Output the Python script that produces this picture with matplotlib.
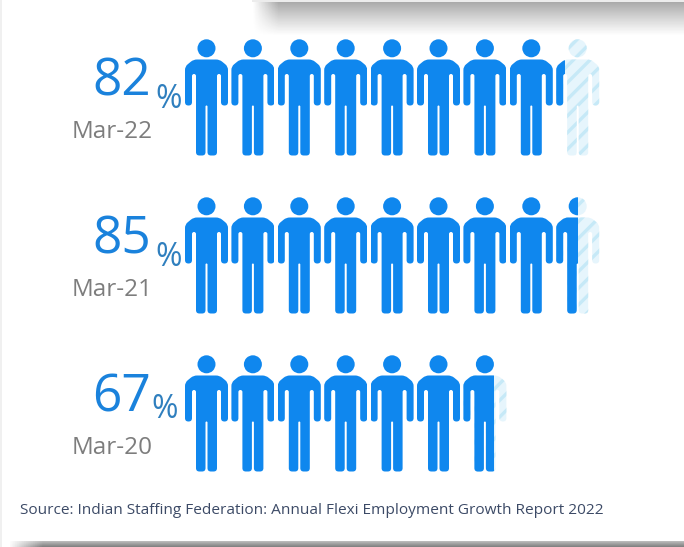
import math
import numpy as np
import matplotlib
matplotlib.use("Agg")
import matplotlib.pyplot as plt
from matplotlib.patches import PathPatch, Rectangle
from matplotlib.path import Path

# share of flexi workers, one icon stands for ten points
periods = ["Mar-22", "Mar-21", "Mar-20"]
shares = [82, 85, 67]
source_note = "Source: Indian Staffing Federation: Annual Flexi Employment Growth Report 2022"

BLUE = "#0f87ee"
PALE = "#e6f5fc"
STRIPE = "#c6e9f7"
ICON_W = 43.0
PITCH = 46.4
FIRST_LEFT = 185.0
ROW_TOPS = [39.5, 197.5, 355.5]
PCT_RIGHT = [182, 182, 178]
PCT_DROP = [68, 68, 62]

plt.rcParams["hatch.linewidth"] = 2.4
plt.rcParams["font.family"] = ["Open Sans", "DejaVu Sans"]


def rounded_poly(points, radius):
    """Closed polygon with its corners cut by quadratic curves."""
    verts, codes = [], []
    n = len(points)
    for i in range(n):
        p = np.array(points[i], float)
        a = np.array(points[i - 1], float)
        b = np.array(points[(i + 1) % n], float)
        r = min(radius, np.linalg.norm(a - p) / 2, np.linalg.norm(b - p) / 2)
        start = p + (a - p) / np.linalg.norm(a - p) * r
        end = p + (b - p) / np.linalg.norm(b - p) * r
        verts.append(start)
        codes.append(Path.MOVETO if i == 0 else Path.LINETO)
        verts += [p, end]
        codes += [Path.CURVE3, Path.CURVE3]
    verts.append(verts[0])
    codes.append(Path.CLOSEPOLY)
    return Path(np.array(verts), codes)


def person_path(left, top):
    """Standing figure, 43 wide and 116 tall, y pointing down."""
    cx = left + ICON_W / 2
    # right half of the outline, from neck to crotch
    half = [
        (0, 20), (13, 20), (21.5, 27), (21.5, 66), (14.5, 66), (14.5, 34.5),
        (10.5, 34.5), (10.5, 116), (1, 116), (1, 66),
    ]
    right = [(cx + x, top + y) for x, y in half]
    left_side = [(cx - x, top + y) for x, y in reversed(half[1:])]
    body = rounded_poly(right + left_side, 3.4)
    head = Path.circle((cx, top + 8.8), 9.0)
    return Path.make_compound_path(body, head)


fig = plt.figure(figsize=(6.84, 5.47), dpi=100)
ax = fig.add_axes([0, 0, 1, 1])
ax.axis("off")

# drop shadows along the top and bottom edges of the panel
yy, xx = np.mgrid[0:1:60j, 0:1:300j]
top_alpha = (1 - yy) ** 1.1 * np.clip(xx / 0.06, 0, 1) * 0.38
top_rgba = np.zeros(top_alpha.shape + (4,))
top_rgba[..., :3] = 0.12
top_rgba[..., 3] = top_alpha
ax.imshow(top_rgba, extent=(252, 684, 36, 2), aspect="auto", zorder=1)
ax.add_patch(Rectangle((252, 0), 432, 2, fc="#ececec", ec="none", zorder=1))

bottom_alpha = np.clip(xx / 0.05, 0, 1) * 0.6 * (0.5 + 0.5 * yy)
bottom_rgba = np.zeros(bottom_alpha.shape + (4,))
bottom_rgba[..., :3] = 0.15
bottom_rgba[..., 3] = bottom_alpha
ax.imshow(bottom_rgba, extent=(8, 684, 547, 541), aspect="auto", zorder=1)
ax.add_patch(Rectangle((0, 0), 2, 547, fc="#f0f0f0", ec="none", zorder=1))

ax.set_xlim(0, 684)
ax.set_ylim(547, 0)

for row, (period, share, top) in enumerate(zip(periods, shares, ROW_TOPS)):
    filled = share / 10
    for i in range(math.ceil(filled)):
        left = FIRST_LEFT + i * PITCH
        path = person_path(left, top)
        frac = min(filled - i, 1.0)
        if frac < 1.0:
            ax.add_patch(PathPatch(path, fc=PALE, ec=STRIPE, lw=0, hatch="//", zorder=2))
        solid = PathPatch(path, fc=BLUE, ec="none", zorder=3)
        ax.add_patch(solid)
        solid.set_clip_path(Rectangle((left, top - 2), ICON_W * frac, 122, transform=ax.transData))

    ax.text(151, top + 56, str(share), color="#1a82dc", fontsize=37, fontweight="medium",
            ha="right", va="baseline", zorder=4)
    ax.text(PCT_RIGHT[row], top + PCT_DROP[row], "%", color="#2f7fbe", fontsize=23,
            ha="right", va="baseline", zorder=4)
    ax.text(153, top + 99, period, color="#7d7d7d", fontsize=17.5, ha="right", va="baseline", zorder=4)

ax.text(20, 514, source_note, color="#3c4a66", fontsize=11.05, ha="left", va="baseline", zorder=4)

fig.savefig("out.png", dpi=100)
